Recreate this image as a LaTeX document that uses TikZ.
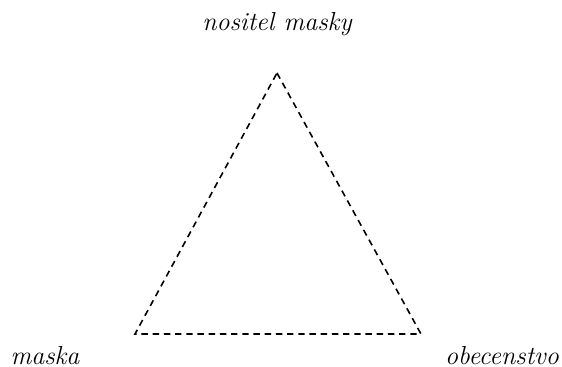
\documentclass[tikz,border=0pt]{standalone}
\usepackage{amsmath,amssymb}
\usepackage{xcolor}
\usetikzlibrary{arrows,calc,positioning}

\begin{document}
\begin{tikzpicture}[x=0.5pt,y=-0.5pt]
  \useasboundingbox (0,0) rectangle (562,367);
  \tikzset{role/.style={font=\fontsize{13}{15}\selectfont\itshape,inner sep=0pt},
           tieline/.style={dash pattern=on 3.2pt off 2.4pt,line width=0.8pt}}
  \coordinate (nositel) at (277,73);
  \coordinate (maska) at (135,334);
  \coordinate (obec) at (421,334);
  \draw[tieline] (nositel) -- (obec) -- (maska) -- cycle;
  \node[role] (lnositel) at (277,24) {nositel masky};
  \node[role] (lmaska) at (45,356) {maska};
  \node[role] (lobec) at (502,356) {obecenstvo};
\end{tikzpicture}
\end{document}
